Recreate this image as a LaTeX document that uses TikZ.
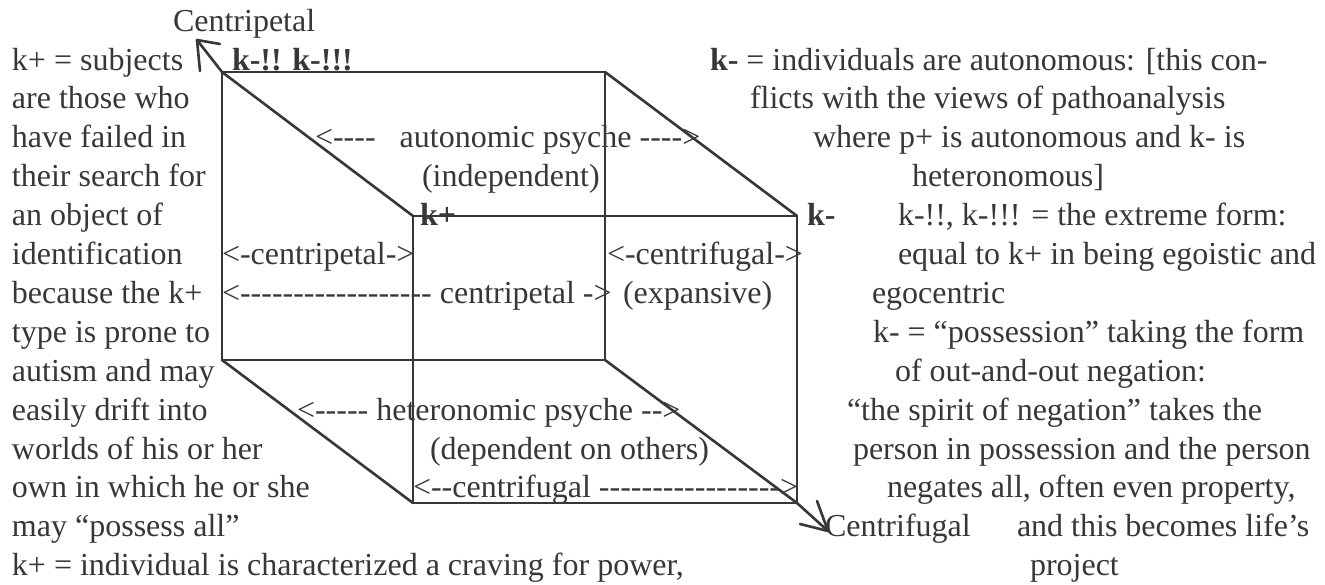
\documentclass[tikz,border=0pt]{standalone}
\usepackage{fontspec}
\setmainfont{Liberation Serif}[Ligatures=TeXOff]
\definecolor{ink}{RGB}{55,55,55}
\tikzset{
  txt/.style={anchor=base west, inner sep=0pt, outer sep=0pt, text=ink,
              font=\fontsize{32}{38.9}\selectfont},
  bld/.style={txt, font=\fontsize{32}{38.9}\selectfont\bfseries},
  edge/.style={draw=ink, line width=2.6pt, line cap=round, line join=round}
}
\begin{document}
\begin{tikzpicture}[x=1pt,y=-1pt]
\useasboundingbox (0,0) rectangle (1325,584);
% cube corners
\coordinate (A) at (222,72);   \coordinate (B) at (605,72);
\coordinate (C) at (605,360);  \coordinate (D) at (222,360);
\coordinate (E) at (413,216);  \coordinate (F) at (797,216);
\coordinate (G) at (797,503);  \coordinate (H) at (413,503);
\coordinate (T1) at (197,40);  \coordinate (T1a) at (220,44); \coordinate (T1b) at (200,71);
\coordinate (T2) at (828,531); \coordinate (T2a) at (800,524); \coordinate (T2b) at (817,501);
% faces
\draw[edge] (A) -- (B) -- (C) -- (D) -- cycle;
\draw[edge] (E) -- (F) -- (G) -- (H) -- cycle;
\draw[edge] (A) -- (E);
\draw[edge] (B) -- (F);
\draw[edge] (D) -- (H);
\draw[edge] (C) -- (G) -- (T2);
\draw[edge] (A) -- (T1);
\draw[edge] (T1a) -- (T1) -- (T1b);
\draw[edge] (T2a) -- (T2) -- (T2b);
% left column
\node[txt] (cp) at (173,31.1) {Centripetal};
\node[txt] (l1) at (12,70) {k+ = subjects};
\node[txt] (l2) at (12,108.9) {are those who};
\node[txt] (l3) at (12,147.8) {have failed in};
\node[txt] (l4) at (12,186.7) {their search for};
\node[txt] (l5) at (12,225.6) {an object of};
\node[txt] (l6) at (12,264.5) {identification};
\node[txt] (l7) at (12,303.4) {because the k+};
\node[txt] (l8) at (12,342.3) {type is prone to};
\node[txt] (l9) at (12,381.2) {autism and may};
\node[txt] (l10) at (12,420.1) {easily drift into};
\node[txt] (l11) at (12,459) {worlds of his or her};
\node[txt] (l12) at (12,497.9) {own in which he or she};
\node[txt] (l13) at (12,536.8) {may “possess all”};
\node[txt] (l14) at (12,575.7) {k+ = individual is characterized a craving for power,};
% cube labels
\node[bld] (kmm) at (232,70) {k-!! k-!!!};
\node[bld] (kp) at (420,225.6) {k+};
\node[bld] (km) at (807,225.6) {k-};
\node[txt] (auto) at (315,147.8) {<----\hspace{16pt} autonomic psyche ---->};
\node[txt] (indep) at (422,186.7) {(independent)};
\node[txt] (cpa) at (222,264.5) {<-centripetal->};
\node[txt] (cfa) at (607,264.5) {<-centrifugal->};
\node[txt] (cpb) at (222,303.4) {<------------------ centripetal ->};
\node[txt] (exp) at (623,303.4) {(expansive)};
\node[txt] (het) at (297,420.1) {<----- heteronomic psyche -->};
\node[txt] (dep) at (430,459) {(dependent on others)};
\node[txt] (cfb) at (413,497.9) {<--centrifugal ----------------->};
\node[txt] (cf) at (825,536.8) {Centrifugal};
% right column
\node[txt] (r1) at (710,70) {\textbf{k-} = individuals are autonomous: [this con-};
\node[txt] (r2) at (750,108.9) {flicts with the views of pathoanalysis};
\node[txt] (r3) at (813,147.8) {where p+ is autonomous and k- is};
\node[txt] (r4) at (912,186.7) {heteronomous]};
\node[txt] (r5) at (898,225.6) {k-!!, k-!!! = the extreme form:};
\node[txt] (r6) at (898,264.5) {equal to k+ in being egoistic and};
\node[txt] (r7) at (872,303.4) {egocentric};
\node[txt] (r8) at (873,342.3) {k- = “possession” taking the form};
\node[txt] (r9) at (895,381.2) {of out-and-out negation:};
\node[txt] (r10) at (847,420.1) {“the spirit of negation” takes the};
\node[txt] (r11) at (853,459) {person in possession and the person};
\node[txt] (r12) at (887,497.9) {negates all, often even property,};
\node[txt] (r13) at (1017,536.8) {and this becomes life’s};
\node[txt] (r14) at (1030,575.7) {project};
\end{tikzpicture}
\end{document}
